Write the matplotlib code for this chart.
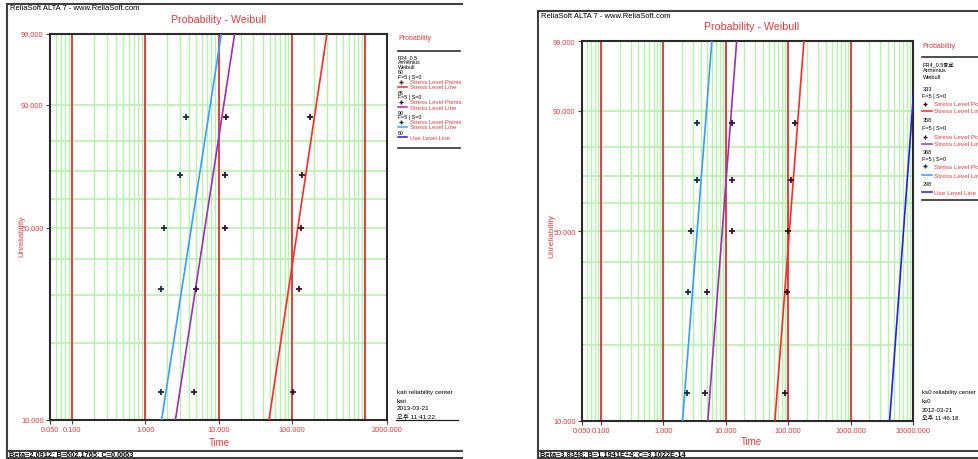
import numpy as np
import matplotlib
matplotlib.use('Agg')
import matplotlib.pyplot as plt
from matplotlib.lines import Line2D
from matplotlib.transforms import Bbox

plt.rcParams['font.family'] = ['Liberation Sans', 'Noto Sans CJK KR', 'DejaVu Sans']

W, H = 979, 460
RED_TXT = '#e03c3c'

# unreliability (%) of the five failures at every stress level
unrel = [12.96, 31.48, 50.0, 68.52, 87.04]
fit_levels = [10, 99]

# left chart
left_times_60 = [104, 126, 132, 137, 180]
left_times_65 = [4.7, 4.95, 12.4, 12.4, 12.7]
left_times_90 = [1.64, 1.64, 1.78, 2.99, 3.61]
# fitted lines: time at 10 % and 99 % unreliability
left_fit_60 = [48.9, 302]
left_fit_65 = [2.58, 16.6]
left_fit_90 = [1.67, 10.9]
left_xticks = [0.05, 0.1, 1, 10, 100, 2000]

# right chart
right_times_333 = [88.9, 94.6, 99.3, 109.7, 130]
right_times_358 = [4.69, 4.99, 12.5, 12.5, 12.5]
right_times_368 = [2.44, 2.51, 2.77, 3.45, 3.45]
right_fit_333 = [61.5, 179]
right_fit_358 = [5.18, 15.0]
right_fit_368 = [2.04, 6.0]
right_fit_use = [4227, 11750]
right_xticks = [0.05, 0.1, 1, 10, 100, 1000, 10000]

y_ticks = [10, 50, 90, 99]
y_grid = [20, 30, 40, 50, 60, 70, 80, 90]

c_red, c_purple, c_lblue, c_blue = '#ff2a2a', '#9b30b0', '#3a9cff', '#2020e0'
m_red, m_purple, m_blue = '#3a1020', '#3a1040', '#10304a'


def fwd(p):
    p = np.clip(np.asarray(p, dtype=float), 1e-6, 100 - 1e-6)
    return np.log(-np.log(1 - p / 100))


def inv(w):
    return 100 * (1 - np.exp(-np.exp(w)))


fig = plt.figure(figsize=(W / 100, H / 100), dpi=100)


def px_axes(x0, y0, x1, y1):
    return fig.add_axes([x0 / W, 1 - y1 / H, (x1 - x0) / W, (y1 - y0) / H])


def ftext(x, y, s, clip_x=None, **kw):
    kw.setdefault('va', 'center')
    t = fig.text(x / W, 1 - y / H, s, **kw)
    if clip_x is not None:
        t.set_clip_box(Bbox.from_extents(0, 0, clip_x, H))
        t.set_clip_on(True)
    return t


def fline(x0, x1, y0, y1, **kw):
    fig.add_artist(Line2D([x0 / W, x1 / W], [1 - y0 / H, 1 - y1 / H],
                          transform=fig.transFigure, **kw))


def fmark(x, y, **kw):
    fig.add_artist(Line2D([x / W], [1 - y / H], transform=fig.transFigure,
                          marker='+', linestyle='none', **kw))


def panel(box, xlim, xticks, points, fits):
    ax = px_axes(*box)
    ax.set_xscale('log')
    ax.set_yscale('function', functions=(fwd, inv))
    ax.set_xlim(*xlim)
    ax.set_ylim(10, 99)
    lo, hi = int(np.floor(np.log10(xlim[0]))), int(np.ceil(np.log10(xlim[1])))
    for d in range(lo, hi + 1):
        for k in range(2, 10):
            v = k * 10.0 ** d
            if xlim[0] < v < xlim[1]:
                ax.axvline(v, color='#b6f2ad', lw=1.0, zorder=1)
        v = 10.0 ** d
        if xlim[0] < v < xlim[1]:
            ax.axvline(v, color='#d24a4a', lw=1.5, zorder=2)
    for p in y_grid:
        ax.axhline(p, color='#b6f2ad', lw=1.2, zorder=1)
    for t, col in fits:
        ax.plot(t, fit_levels, color=col, lw=1.2, zorder=3)
    for t, col in points:
        ax.plot(t, unrel, linestyle='none', marker='+', ms=4.5, mew=1.3,
                color=col, zorder=4)
    ax.set_xticks(xticks)
    ax.set_xticklabels(['%.3f' % v for v in xticks])
    ax.xaxis.set_minor_locator(matplotlib.ticker.NullLocator())
    ax.yaxis.set_minor_locator(matplotlib.ticker.NullLocator())
    ax.set_yticks(y_ticks)
    ax.set_yticklabels(['%.3f' % v for v in y_ticks])
    ax.tick_params(labelsize=5.3, labelcolor=RED_TXT, length=3, width=0.8,
                   color='#444444', pad=1.5)
    for s in ax.spines.values():
        s.set_color('#2a2a2a')
        s.set_linewidth(1.5)
    return ax


def legend(x0, y_head, y_rule1, rows, marks, lines, use_y, y_rule2, x_end, fs_b, fs_r):
    ftext(x0, y_head, 'Probability', fontsize=5, color=RED_TXT, clip_x=x_end)
    fline(x0, x_end - 2, y_rule1, y_rule1, color='#303030', lw=1.2)
    for y, s in rows:
        ftext(x0, y, s, fontsize=fs_b, clip_x=x_end)
    for y, col in marks:
        fmark(x0 + 2.5, y, color=col, ms=3.5, mew=1)
        ftext(x0 + 12, y, 'Stress Level Points', fontsize=fs_r, color=RED_TXT, clip_x=x_end)
    for y, col in lines:
        fline(x0, x0 + 9, y, y, color=col, lw=1.1)
        ftext(x0 + 12, y, 'Stress Level Line', fontsize=fs_r, color=RED_TXT, clip_x=x_end)
    fline(x0, x0 + 9, use_y, use_y, color=c_blue, lw=1.1)
    ftext(x0 + 12, use_y, 'Use Level Line', fontsize=fs_r, color=RED_TXT, clip_x=x_end)
    fline(x0, x_end - 2, y_rule2, y_rule2, color='#303030', lw=1.2)


# ---------- left chart ----------
panel((50, 35, 387, 421), (0.05, 2000), left_xticks,
      [(left_times_60, m_red), (left_times_65, m_purple), (left_times_90, m_blue)],
      [(left_fit_60, c_red), (left_fit_65, c_purple), (left_fit_90, c_lblue)])

fline(7, 462, 5, 5, color='#404040', lw=1.5)
fline(7, 7, 5, 459, color='#404040', lw=1.5)
fline(7, 462, 451.5, 451.5, color='#404040', lw=1.5)
fline(7, 462, 459, 459, color='#404040', lw=1.5)
ftext(10, 9, 'ReliaSoft ALTA 7 - www.ReliaSoft.com', fontsize=5.5)
ftext(219, 20, 'Probability - Weibull', fontsize=7.7, color=RED_TXT, ha='center')
ftext(219, 443, 'Time', fontsize=7, color=RED_TXT, ha='center')
ftext(22, 236, 'Unreliability', fontsize=5.8, color=RED_TXT, ha='center', rotation=90)
ftext(9, 455.5, 'Beta=2.0912; B=602.1765; C=0.0063', fontsize=5.3, weight='bold')

legend(398, 39, 52,
       [(58, 'FR4_0.5'), (63, 'Arrhenius'), (67.7, 'Weibull'),
        (72.7, '60'), (77.7, 'F=5 | S=0'), (93.3, '65'), (98, 'F=5 | S=0'),
        (113.3, '90'), (118, 'F=5 | S=0'), (133.3, '60')],
       [(82.8, m_red), (102.8, m_purple), (122.8, m_blue)],
       [(87.5, c_red), (108, c_purple), (128, c_lblue)],
       138.3, 149, 462, 3.8, 4.3)

ftext(397, 393, 'kati reliability center', fontsize=4.6, clip_x=462)
ftext(397, 401.5, 'kati', fontsize=4.6)
ftext(397, 409, '2013-03-21', fontsize=4.6)
ftext(397, 417, '오후 11:41:22', fontsize=4.6)
fline(396, 458, 421, 421, color='#202020', lw=0.9)

# ---------- right chart ----------
panel((582, 42, 913, 421.5), (0.05, 10000), right_xticks,
      [(right_times_333, m_red), (right_times_358, m_purple), (right_times_368, m_blue)],
      [(right_fit_333, c_red), (right_fit_358, c_purple), (right_fit_368, c_lblue),
       (right_fit_use, c_blue)])

fline(538, 979, 12, 12, color='#404040', lw=1.5)
fline(538, 538, 12, 459, color='#404040', lw=1.5)
fline(538, 979, 451.5, 451.5, color='#404040', lw=1.5)
fline(538, 979, 459, 459, color='#404040', lw=1.5)
ftext(541, 16, 'ReliaSoft ALTA 7 - www.ReliaSoft.com', fontsize=5.5)
ftext(752, 27, 'Probability - Weibull', fontsize=7.7, color=RED_TXT, ha='center')
ftext(751, 442, 'Time', fontsize=7, color=RED_TXT, ha='center')
ftext(552, 236, 'Unreliability', fontsize=6, color=RED_TXT, ha='center', rotation=90)
ftext(540, 455.5, 'Beta=3.8348; B=1.1941E+4; C=3.1022E-14', fontsize=5.3, weight='bold')

legend(922.5, 46.7, 58.3,
       [(65, 'FR4_0.5종료'), (71, 'Arrhenius'), (77.5, 'Weibull'),
        (89.3, '333'), (96.7, 'F=5 | S=0'), (120.7, '358'), (128.3, 'F=5 | S=0'),
        (152.7, '368'), (160, 'F=5 | S=0'), (184, '298')],
       [(105, m_red), (137.7, m_purple), (167.3, m_blue)],
       [(111.7, c_red), (145, c_purple), (176, c_lblue)],
       193.3, 200.7, 981, 4.0, 4.6)

ftext(922, 393, 'ks0 reliability center', fontsize=4.4, clip_x=979)
ftext(922, 401.5, 'ks0', fontsize=4.4)
ftext(922, 411, '2012-03-21', fontsize=4.4)
ftext(922, 419, '오후 11:46:18', fontsize=4.4)

fig.savefig('out.png', dpi=100)
